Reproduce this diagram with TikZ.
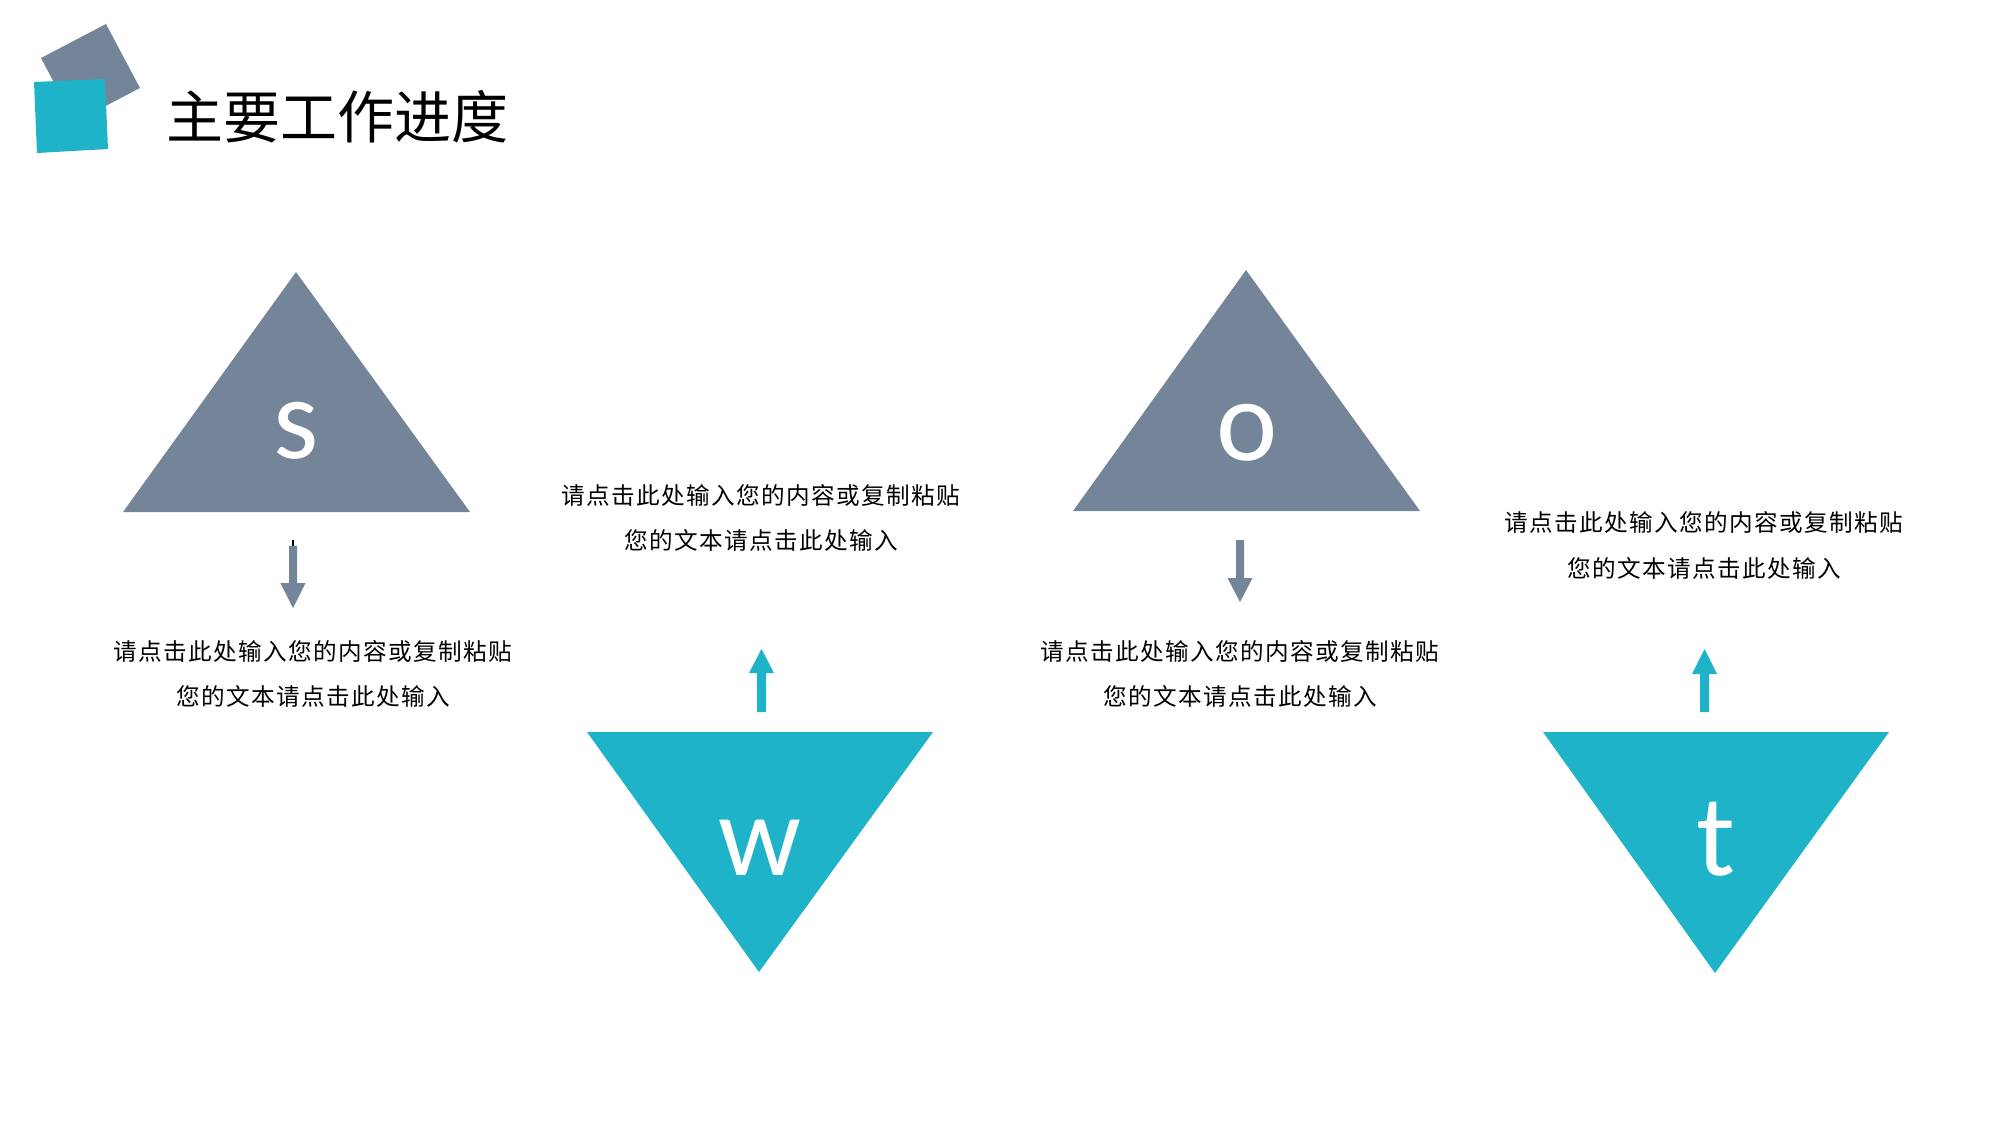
\documentclass[tikz,border=0pt]{standalone}
\usepackage{fontspec}
\setmainfont{Carlito}
\newfontfamily\cjk{Noto Sans CJK SC}
\newfontfamily\cjkbody[LetterSpace=6]{Noto Sans CJK SC}
\definecolor{slate}{RGB}{116,133,153}
\definecolor{tealc}{RGB}{30,179,200}
\begin{document}
\begin{tikzpicture}[x=0.5pt,y=-0.5pt,
  body/.style={font=\cjkbody\fontsize{11.8pt}{14pt}\selectfont, inner sep=0pt, text=black},
  letter/.style={font=\fontsize{58pt}{60pt}\selectfont, text=white, inner sep=0pt, anchor=base},
  downarr/.style={fill=slate},
  uparr/.style={fill=tealc}
]
\useasboundingbox (0,0) rectangle (2000,1126);
\fill[white] (0,0) rectangle (2000,1126);
% logo
\fill[slate] (41,58) -- (106,24) -- (140,88) -- (75,122) -- cycle;
\fill[tealc] (34,82) -- (105,79) -- (108,149) -- (37,153) -- cycle;
\node[font=\cjk\fontsize{28.5pt}{30pt}\selectfont, anchor=west, inner sep=0pt] (title) at (166,117) {主要工作进度};
% triangles
\fill[slate] (296,272) -- (470,512) -- (123,512) -- cycle;
\fill[tealc] (587,732) -- (933,732) -- (759,972) -- cycle;
\fill[slate] (1246,270) -- (1420,511) -- (1073,511) -- cycle;
\fill[tealc] (1543,732) -- (1889,732) -- (1715,973) -- cycle;
% letters
\node[letter] (ls) at (296,458) {s};
\node[letter] (lw) at (760,875) {w};
\node[letter] (lo) at (1247,460) {o};
\node[letter] (lt) at (1716,875) {t};
% arrows
\draw[black, line width=0.6pt] (293,540) -- (293,547);
\fill[downarr] (289,546) -- (297,546) -- (297,583) -- (305.5,583) -- (293,608) -- (280.5,583) -- (289,583) -- cycle;
\fill[downarr] (1236,540) -- (1244,540) -- (1244,578) -- (1252.5,578) -- (1240,602) -- (1227.5,578) -- (1236,578) -- cycle;
\fill[uparr] (757,712) -- (766,712) -- (766,673) -- (774,673) -- (761.5,649) -- (749,673) -- (757,673) -- cycle;
\fill[uparr] (1700,712) -- (1709,712) -- (1709,674) -- (1717,674) -- (1704.5,649) -- (1692,674) -- (1700,674) -- cycle;
% texts
\node[body] (s1) at (313,651) {请点击此处输入您的内容或复制粘贴};
\node[body] (s2) at (313,696) {您的文本请点击此处输入};
\node[body] (w1) at (761,495) {请点击此处输入您的内容或复制粘贴};
\node[body] (w2) at (761,540) {您的文本请点击此处输入};
\node[body] (o1) at (1240,651) {请点击此处输入您的内容或复制粘贴};
\node[body] (o2) at (1240,696) {您的文本请点击此处输入};
\node[body] (t1) at (1704,522) {请点击此处输入您的内容或复制粘贴};
\node[body] (t2) at (1704,568) {您的文本请点击此处输入};
\end{tikzpicture}
\end{document}
